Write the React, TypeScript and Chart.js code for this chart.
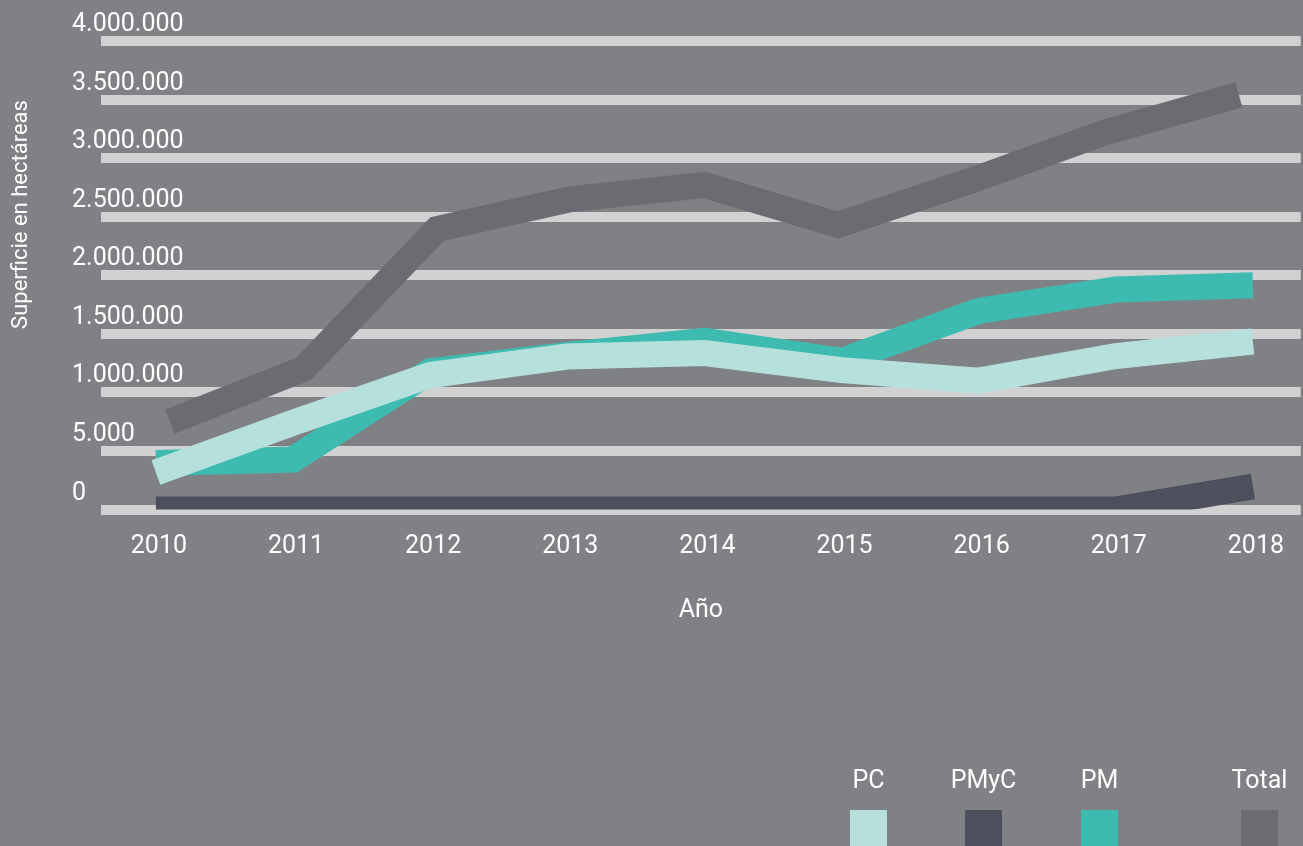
import React, { useEffect, useRef } from 'react';
import { Chart, registerables } from 'chart.js';

Chart.register(...registerables);

// ---- data ----
const years = ['2010', '2011', '2012', '2013', '2014', '2015', '2016', '2017', '2018'];
const pcValues = [316000, 740000, 1148000, 1306000, 1336000, 1190000, 1100000, 1310000, 1434000];
const pmycValues = [0, 0, 0, 0, 0, 0, 0, 0, 196000];
const pmValues = [397000, 427000, 1180000, 1319000, 1440000, 1268000, 1695000, 1878000, 1914000];
const totalValues = [751000, 1200000, 2395000, 2650000, 2770000, 2430000, 2810000, 3220000, 3540000];

const seriesNames = ['PC', 'PMyC', 'PM', 'Total'];
const seriesColors = ['#b6e0db', '#4d4f5d', '#3ebbb0', '#6b6c71'];

const yTickValues = [0, 500000, 1000000, 1500000, 2000000, 2500000, 3000000, 3500000, 4000000];
const yTickLabels = ['0', '5.000', '1.000.000', '1.500.000', '2.000.000', '2.500.000', '3.000.000', '3.500.000', '4.000.000'];
const yTitle = 'Superficie en hectáreas';
const xTitle = 'Año';

// ---- style / layout ----
const BG = '#808185';
const GRID = '#d1d1d1';
const FONT = 'Roboto, "Noto Sans", sans-serif';
const legendSquareLefts = [850, 965, 1081, 1241];

const toPoints = (vals: number[]) => vals.map((v, i) => ({ x: i, y: v }));

const yLabelsPlugin = {
  id: 'yLabelsPlugin',
  afterDatasetsDraw(chart: any) {
    const { ctx, chartArea } = chart;
    const ys = chart.scales.y;
    ctx.save();
    ctx.fillStyle = '#ffffff';
    ctx.font = `400 25px ${FONT}`;
    ctx.textAlign = 'left';
    ctx.textBaseline = 'alphabetic';
    yTickValues.forEach((v, i) => {
      ctx.fillText(yTickLabels[i], chartArea.left - 29, ys.getPixelForValue(v) - 10);
    });
    ctx.translate(27, 214.5);
    ctx.rotate(-Math.PI / 2);
    ctx.font = `400 22px ${FONT}`;
    ctx.textAlign = 'center';
    ctx.fillText(yTitle, 0, 0);
    ctx.restore();
  },
};

export default function App() {
  const canvasRef = useRef<HTMLCanvasElement | null>(null);

  useEffect(() => {
    if (!canvasRef.current) return;
    const seriesValues = [pcValues, pmycValues, pmValues, totalValues];
    const chart = new Chart(canvasRef.current, {
      type: 'line',
      data: {
        datasets: seriesNames.map((name, i) => ({
          label: name,
          data: toPoints(seriesValues[i]),
          borderColor: seriesColors[i],
          backgroundColor: seriesColors[i],
          borderWidth: 26,
          borderCapStyle: 'butt',
          borderJoinStyle: 'miter',
          tension: 0,
          pointRadius: 0,
          pointHoverRadius: 0,
          fill: false,
          clip: 0,
          xAxisID: name === 'Total' ? 'x2' : 'x',
        })) as any,
      },
      options: {
        responsive: false,
        animation: false,
        events: [],
        layout: { padding: { left: 101, right: 0, top: 41, bottom: 216.5 } },
        plugins: { legend: { display: false }, tooltip: { enabled: false } },
        scales: {
          x: {
            type: 'linear',
            min: -0.4004,
            max: 8.349,
            afterBuildTicks: (scale: any) => {
              scale.ticks = years.map((_, i) => ({ value: i }));
            },
            afterFit: (scale: any) => {
              scale.height = 120;
            },
            grid: { display: false, drawTicks: false },
            border: { display: false },
            ticks: {
              color: '#ffffff',
              font: { family: FONT, size: 25, weight: '400' },
              padding: 22,
              labelOffset: 3,
              maxRotation: 0,
              autoSkip: false,
              callback: (v: any) => years[Math.round(v)] ?? '',
            },
            title: {
              display: true,
              text: xTitle,
              color: '#ffffff',
              font: { family: FONT, size: 25, weight: '400' },
              padding: { top: 0, bottom: 4 },
            },
          },
          x2: {
            type: 'linear',
            display: false,
            min: -0.5154,
            max: 8.463,
          },
          y: {
            min: 0,
            max: 4000000,
            afterBuildTicks: (scale: any) => {
              scale.ticks = yTickValues.map((v) => ({ value: v }));
            },
            grid: { color: GRID, lineWidth: 10, drawTicks: false },
            border: { display: false },
            ticks: { display: false },
          },
        } as any,
      },
      plugins: [yLabelsPlugin],
    });
    return () => chart.destroy();
  }, []);

  return (
    <div style={{ position: 'fixed', left: 0, top: 0, width: 1303, height: 846, background: BG, overflow: 'hidden', fontFamily: FONT }}>
      <canvas ref={canvasRef} width={1303} height={846} style={{ position: 'absolute', left: 0, top: 0, width: 1303, height: 846 }} />
      {seriesNames.map((name, i) => (
        <div
          key={name}
          style={{
            position: 'absolute',
            left: legendSquareLefts[i],
            top: 765,
            width: 37,
            display: 'flex',
            flexDirection: 'column',
            alignItems: 'center',
          }}
        >
          <div style={{ color: '#ffffff', fontSize: 25, fontWeight: 400, lineHeight: '30px', whiteSpace: 'nowrap' }}>{name}</div>
          <div style={{ width: 37, height: 37, marginTop: 15, background: seriesColors[i] }} />
        </div>
      ))}
    </div>
  );
}
